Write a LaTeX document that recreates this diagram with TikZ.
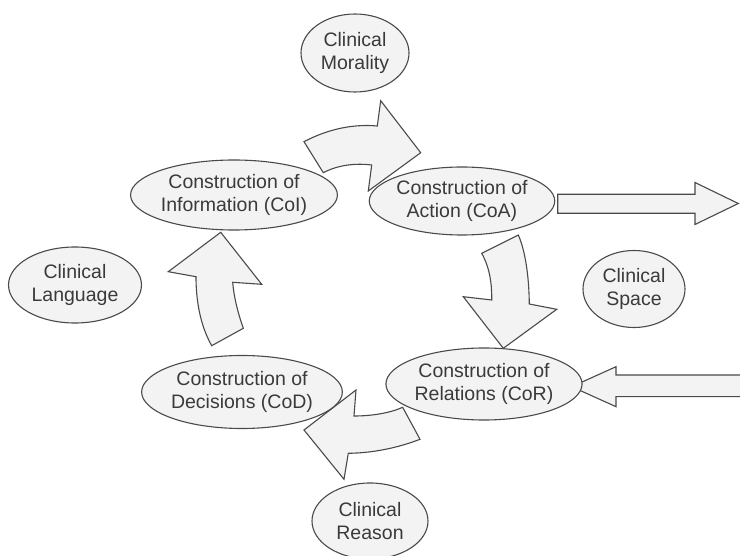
\documentclass[tikz,border=0pt]{standalone}
\usepackage{fontspec}
\setmainfont{Liberation Sans}
\usetikzlibrary{shapes.geometric}
\definecolor{linec}{HTML}{4A4A4A}
\definecolor{fillc}{HTML}{F3F3F3}
\definecolor{textc}{HTML}{3A3A3A}
\tikzset{
  ell/.style={ellipse, draw=linec, fill=fillc, line width=1.1pt, inner sep=0pt,
    align=center, text=textc, font={\fontsize{19.5}{23}\selectfont}},
  blockarrow/.style={draw=linec, fill=fillc, line width=1.1pt, line join=miter}
}
\begin{document}
\begin{tikzpicture}[x=1pt,y=-1pt]
\useasboundingbox[fill=white] (0,0) rectangle (740,556);

% block arrows
\draw[blockarrow] (304,141.7) .. controls (330,128) and (355,124) .. (377.3,126)
  -- (380.7,100.7) -- (420.7,152.7) -- (368.3,191) -- (371.7,165)
  .. controls (355,163) and (338,165) .. (323.3,172.7) -- cycle;
\draw[blockarrow] (518.3,235) .. controls (525,250) and (529,275) .. (529.3,304)
  -- (556.7,309.3) -- (503.3,348.3) -- (463.3,296.7) -- (491.7,300)
  .. controls (492,285) and (490,268) .. (481.7,253.3) -- cycle;
\draw[blockarrow] (402.7,407.3) .. controls (390,413) and (372,416) .. (354,416)
  -- (356,390) -- (304,430) -- (344,479.3) -- (348.3,453.3)
  .. controls (375,453) and (400,447) .. (420,439.3) -- cycle;
\draw[blockarrow] (211.7,345.7) .. controls (200,325) and (196,300) .. (196,276.7)
  -- (168.3,271.7) -- (220.7,232.3) -- (261.7,284.3) -- (232.7,282.3)
  .. controls (234,298) and (238,313) .. (243.3,328.3) -- cycle;
\draw[blockarrow] (557.7,194.3) -- (695,194.3) -- (695,182.5) -- (738.3,203.5)
  -- (695,224.5) -- (695,213.3) -- (557.7,213.3) -- cycle;
\draw[blockarrow] (746,375) -- (616,375) -- (616,366.7) -- (571.7,386.7)
  -- (616,406.7) -- (616,396.7) -- (746,396.7) -- cycle;

% ellipses
\node[ell, minimum width=108, minimum height=78] (mor) at (355,53) {Clinical\\Morality};
\node[ell, minimum width=164, minimum height=70] (coi) at (234,195) {Construction of\\Information (CoI)};
\node[ell, minimum width=159, minimum height=68] (coa) at (462,201) {Construction of\\Action (CoA)};
\node[ell, minimum width=102, minimum height=77] (spa) at (634,289) {Clinical\\Space};
\node[ell, minimum width=168, minimum height=72] (cor) at (484,384) {Construction of\\Relations (CoR)};
\node[ell, minimum width=133, minimum height=76] (lan) at (75,285) {Clinical\\Language};
\node[ell, minimum width=176, minimum height=73] (cod) at (242,392) {Construction of\\Decisions (CoD)};
\node[ell, minimum width=116, minimum height=76] (rea) at (370,521) {Clinical\\Reason};
\end{tikzpicture}
\end{document}
